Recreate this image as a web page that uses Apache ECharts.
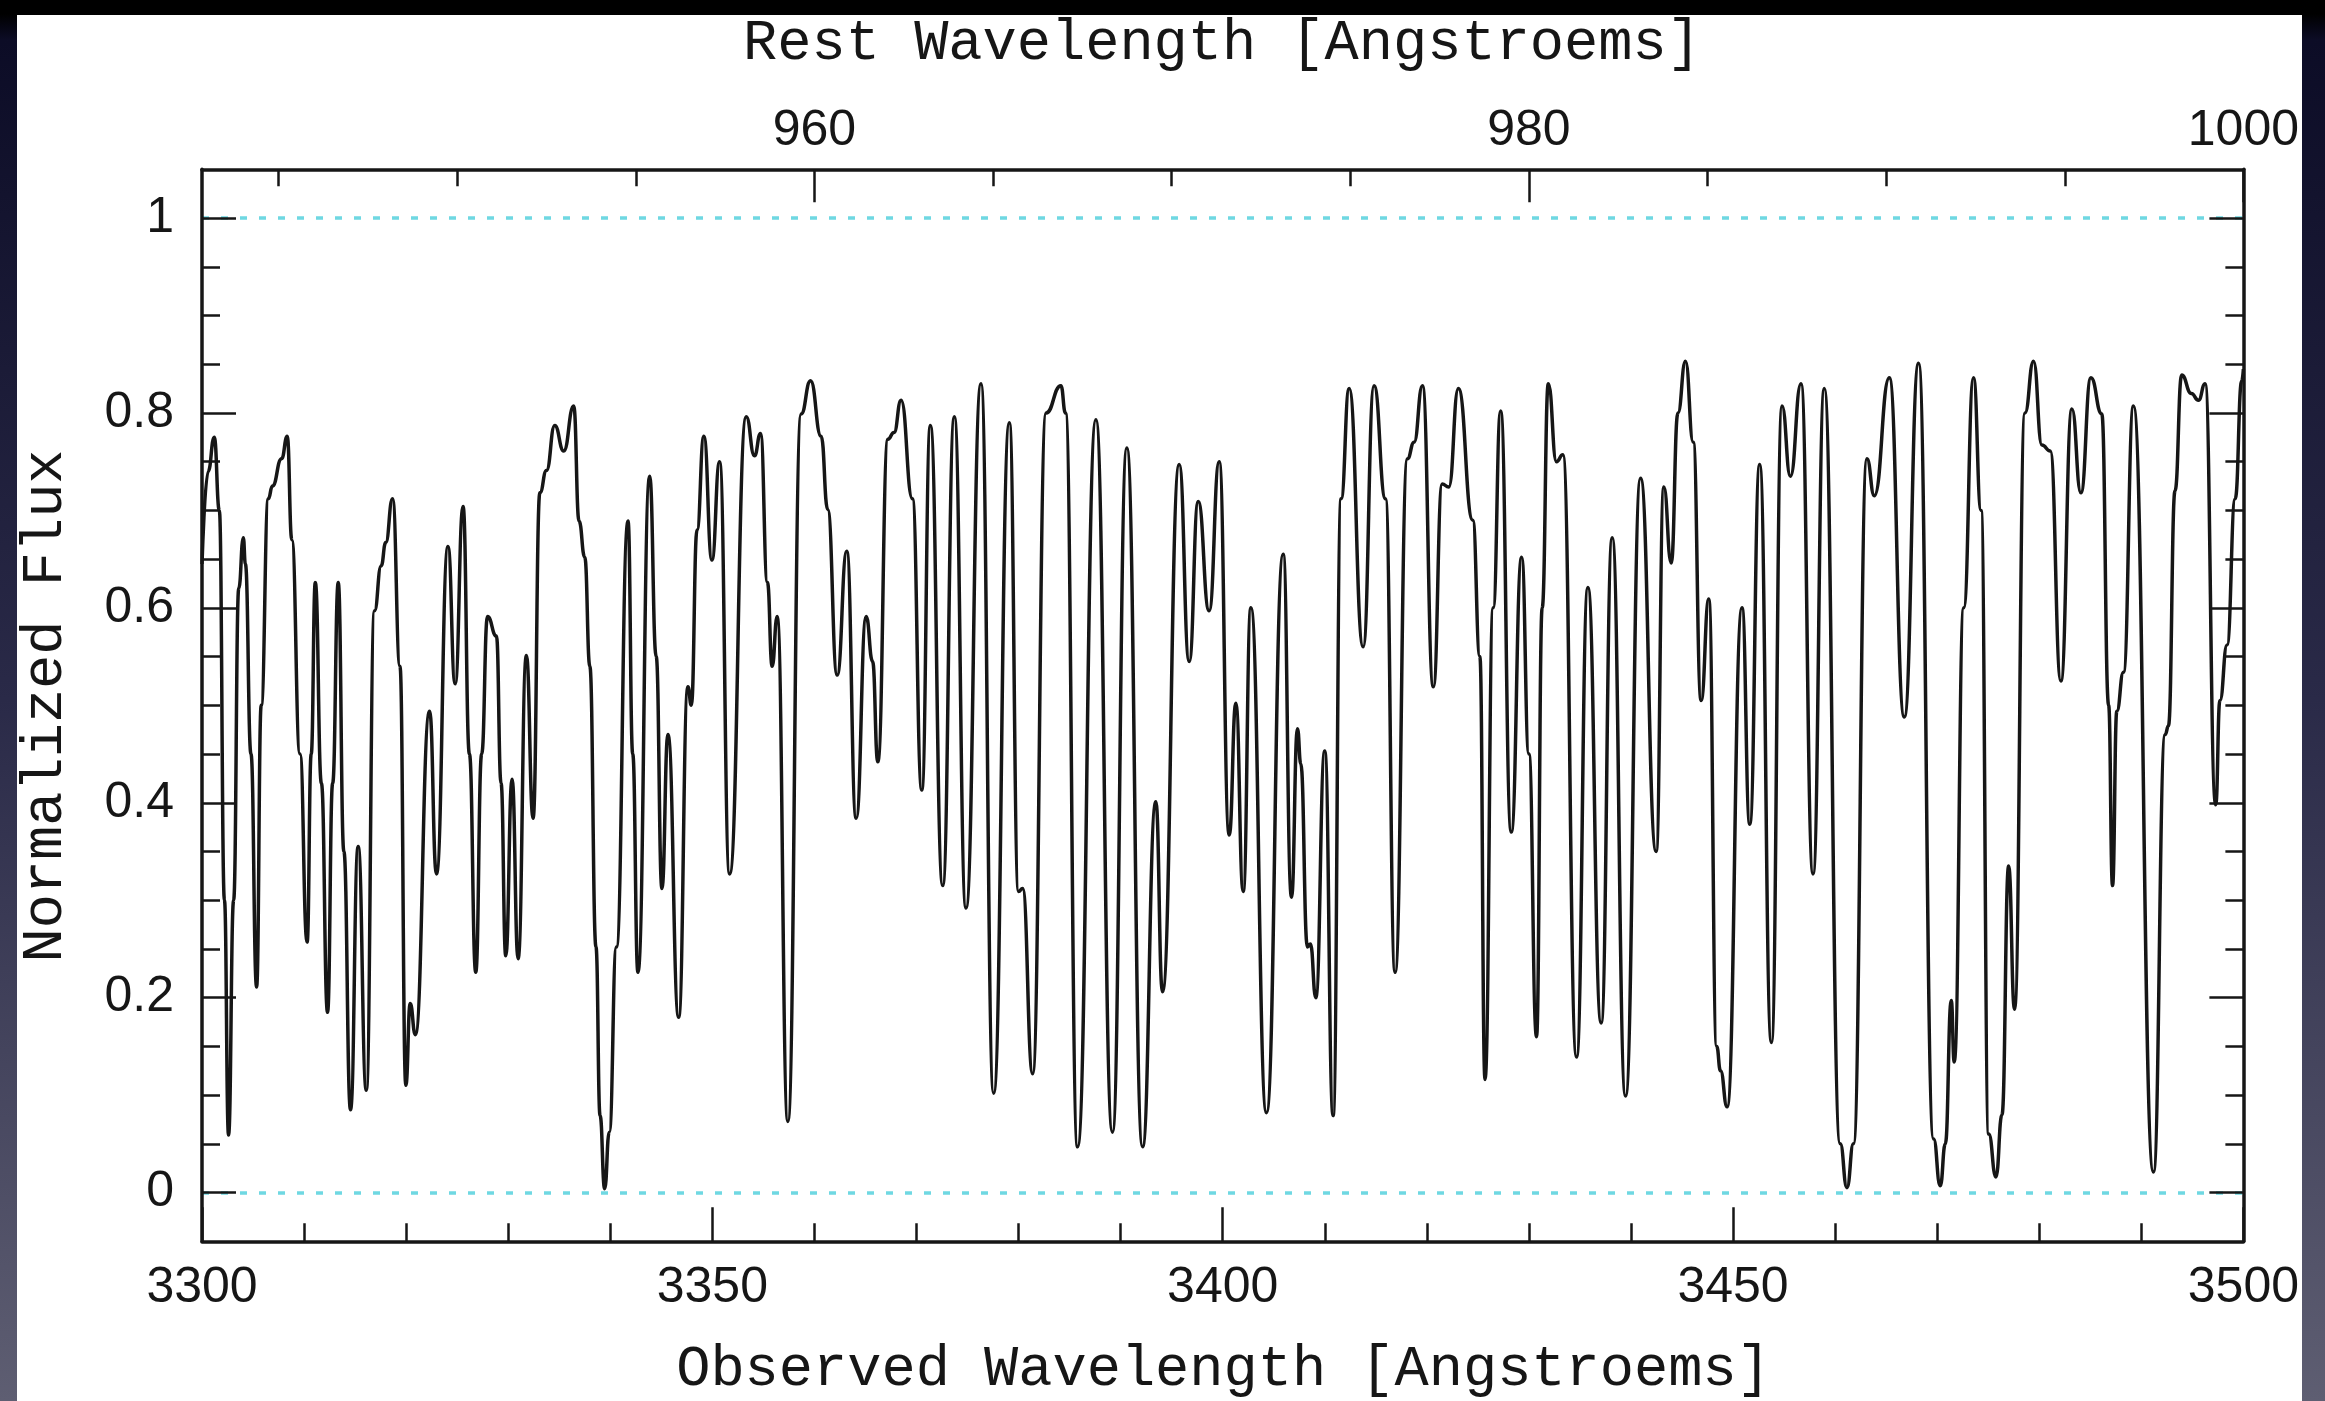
<!DOCTYPE html>
<html><head><meta charset="utf-8">
<script src="https://cdn.jsdelivr.net/npm/echarts@6.0.0/dist/echarts.min.js"></script>
<style>
html,body{margin:0;padding:0;width:2325px;height:1401px;overflow:hidden;
background:linear-gradient(to bottom,#000 0px,#000 14px,#0c0c26 40px,#2a2a48 700px,#5e5e72 1401px);}
#chart{position:absolute;left:17px;top:15px;width:2285px;height:1386px;background:#fff;}
</style></head><body><div id="chart"></div>
<script>
// ---- data ----
const wavelength = [
3300.0,3300.6,3301.2,3301.7,3302.2,3302.6,3303.1,3303.6,3304.05,3304.25,3304.8,3305.35,3305.8,3306.5,3306.9,3307.8,3308.35,3308.8,3309.6,3310.3,
3310.7,3311.1,3311.7,3312.3,3312.8,3313.35,3313.9,3314.55,3315.3,3316.1,3316.9,3317.55,3318.0,3318.67,3319.4,3319.97,3320.4,3320.9,3322.3,3322.97,
3324.1,3324.8,3325.58,3326.2,3326.82,3327.4,3327.97,3328.85,3329.3,3329.76,3330.38,3330.97,3331.78,3332.44,3333.1,3333.75,3334.56,3335.44,3336.42,3336.94,
3337.5,3338.0,3338.6,3339.0,3339.45,3339.9,3340.6,3341.74,3342.2,3342.71,3343.86,3344.5,3345.06,3345.65,3346.7,3347.61,3347.94,3348.5,3349.17,3349.96,
3350.71,3351.69,3353.32,3354.13,3354.72,3355.4,3355.86,3356.35,3357.4,3358.7,3359.62,3360.66,3361.3,3362.23,3363.17,3364.09,3365.07,3365.7,3366.21,3367.2,
3367.8,3368.49,3369.6,3370.52,3371.36,3372.57,3373.71,3374.85,3376.32,3377.56,3379.1,3380.0,3380.4,3381.38,3382.7,3384.15,3384.6,3385.78,3387.58,3389.2,
3390.61,3392.15,3393.45,3394.1,3395.74,3396.72,3397.6,3398.67,3399.66,3400.64,3401.29,3402.01,3402.76,3404.29,3405.93,3406.74,3407.33,3407.65,3408.3,3408.6,
3409.12,3410.0,3410.82,3411.6,3412.39,3413.76,3414.83,3415.95,3416.89,3418.1,3418.75,3419.57,3420.64,3421.5,3422.15,3423.09,3424.5,3425.2,3425.7,3426.5,
3427.23,3428.27,3429.29,3430.0,3430.75,3431.3,3431.9,3432.7,3433.33,3434.67,3435.78,3437.08,3438.16,3439.47,3440.94,3442.47,3443.22,3443.94,3444.6,3445.34,
3446.1,3446.87,3447.63,3448.4,3448.77,3449.42,3450.88,3451.64,3452.61,3453.76,3454.8,3455.62,3456.66,3457.84,3458.94,3460.5,3461.16,3461.8,3463.12,3463.84,
3465.31,3466.78,3468.18,3469.65,3470.3,3470.8,3471.38,3471.67,3472.6,3473.56,3474.3,3475.05,3475.76,3476.35,3477.0,3477.58,3478.6,3479.44,3480.26,3481.08,
3482.12,3483.2,3484.08,3485.06,3486.13,3486.8,3487.18,3487.6,3488.25,3489.23,3491.19,3492.34,3492.66,3493.3,3493.96,3494.9,3495.6,3496.25,3497.29,3497.7,
3498.4,3499.2,3499.84,3500.0
];
const flux = [
0.645,0.74,0.775,0.70,0.30,0.059,0.30,0.62,0.672,0.645,0.45,0.211,0.50,0.712,0.725,0.753,0.776,0.67,0.45,0.257,
0.45,0.626,0.42,0.185,0.42,0.626,0.35,0.085,0.355,0.105,0.597,0.643,0.667,0.712,0.54,0.11,0.194,0.162,0.494,0.327,
0.663,0.522,0.704,0.45,0.226,0.45,0.591,0.571,0.42,0.243,0.424,0.24,0.551,0.384,0.718,0.741,0.787,0.761,0.807,0.689,
0.652,0.54,0.252,0.079,0.004,0.062,0.252,0.689,0.45,0.226,0.735,0.55,0.312,0.47,0.18,0.519,0.50,0.68,0.776,0.649,
0.75,0.327,0.796,0.756,0.779,0.626,0.54,0.591,0.073,0.799,0.833,0.776,0.701,0.531,0.658,0.384,0.591,0.545,0.442,0.773,
0.78,0.813,0.712,0.413,0.787,0.315,0.796,0.292,0.83,0.102,0.79,0.309,0.312,0.122,0.80,0.828,0.80,0.047,0.793,0.062,
0.764,0.047,0.401,0.206,0.747,0.545,0.709,0.597,0.75,0.367,0.502,0.309,0.60,0.082,0.655,0.303,0.476,0.44,0.252,0.255,
0.20,0.453,0.079,0.712,0.825,0.56,0.828,0.712,0.226,0.753,0.77,0.828,0.519,0.727,0.724,0.825,0.69,0.55,0.116,0.60,
0.802,0.37,0.652,0.45,0.16,0.60,0.83,0.75,0.757,0.139,0.621,0.174,0.672,0.099,0.733,0.35,0.724,0.646,0.80,0.853,
0.77,0.505,0.609,0.15,0.125,0.088,0.60,0.378,0.747,0.154,0.807,0.735,0.83,0.327,0.825,0.05,0.005,0.05,0.753,0.715,
0.836,0.488,0.851,0.055,0.007,0.05,0.197,0.134,0.60,0.836,0.70,0.06,0.016,0.08,0.335,0.188,0.80,0.853,0.767,0.761,
0.525,0.804,0.718,0.836,0.799,0.50,0.315,0.494,0.534,0.807,0.021,0.47,0.479,0.72,0.839,0.82,0.813,0.83,0.398,0.505,
0.562,0.712,0.833,0.845
];
const obsMajorTicks = [3300, 3350, 3400, 3450, 3500];
const obsMinorTicks = [3310,3320,3330,3340,3360,3370,3380,3390,3410,3420,3430,3440,3460,3470,3480,3490];
const restMajorTicks = [960, 980, 1000];
const restMinorTicks = [945, 950, 955, 965, 970, 975, 985, 990, 995];
const restFactor = 3.5; // observed = rest * (1+z)
const fluxMajorTicks = [0, 0.2, 0.4, 0.6, 0.8, 1];
const fluxMinorTicks = [0.05,0.1,0.15,0.25,0.3,0.35,0.45,0.5,0.55,0.65,0.7,0.75,0.85,0.9,0.95];
const refLevels = [0, 1];
const xRange = [3300, 3500];
const yRange = [-0.05, 1.05];

// ---- chart ----
const INK = '#161616';
const tickFont = {fontFamily: '"Liberation Sans", Arial, sans-serif', fontSize: 50, color: INK};
const titleFont = '"Liberation Mono", monospace';

function axis(kind, position, values, len, opts) {
  opts = opts || {};
  const isX = kind === 'x';
  return {
    type: 'value', gridIndex: 0, position: position,
    min: isX ? xRange[0] : yRange[0], max: isX ? xRange[1] : yRange[1],
    z: 6, splitLine: {show: false},
    axisLine: {show: !!opts.line, onZero: false, lineStyle: {color: INK, width: 3.5}},
    axisTick: {show: true, inside: true, length: len, customValues: values, lineStyle: {color: INK, width: 2.5}},
    axisLabel: opts.labels ? Object.assign({show: true, customValues: values, margin: opts.margin,
      showMinLabel: true, showMaxLabel: true, formatter: opts.formatter}, tickFont) : {show: false}
  };
}

const chart = echarts.init(document.getElementById('chart'), null, {renderer: 'canvas'});
chart.setOption({
  animation: false,
  backgroundColor: '#ffffff',
  grid: {left: 185, top: 154.3, width: 2043, height: 1072, containLabel: false},
  xAxis: [
    axis('x', 'bottom', obsMajorTicks, 34, {line: true, labels: true, margin: 22, formatter: v => String(Math.round(v))}),
    axis('x', 'bottom', obsMinorTicks, 18),
    axis('x', 'top', restMajorTicks.map(r => r * restFactor), 33, {line: true, labels: true, margin: 13,
      formatter: v => String(Math.round(v / restFactor))}),
    axis('x', 'top', restMinorTicks.map(r => r * restFactor), 17)
  ],
  yAxis: [
    axis('y', 'left', fluxMajorTicks, 34, {line: true, labels: true, margin: 28, formatter: v => String(+v.toFixed(1))}),
    axis('y', 'left', fluxMinorTicks, 18),
    axis('y', 'right', fluxMajorTicks, 34, {line: true}),
    axis('y', 'right', fluxMinorTicks, 18)
  ],
  series: [{
    type: 'line', xAxisIndex: 0, yAxisIndex: 0,
    data: wavelength.map((w, i) => [w, flux[i]]),
    symbol: 'none', showSymbol: false,
    smooth: 0.5, smoothMonotone: 'x',
    lineStyle: {color: INK, width: 3.5},
    z: 3,
    markLine: {
      silent: true, symbol: 'none', label: {show: false}, animation: false,
      lineStyle: {color: '#6fd8e2', width: 3.5, type: [7, 12]},
      emphasis: {disabled: true},
      data: refLevels.map(v => ({yAxis: v}))
    }
  }],
  graphic: [
    {type: 'text', x: 1205, y: 28.5, style: {text: 'Rest Wavelength [Angstroems]', fontFamily: titleFont, fontSize: 57,
      fill: INK, align: 'center', verticalAlign: 'middle', textAlign: 'center', textVerticalAlign: 'middle'}},
    {type: 'text', x: 1206.5, y: 1355, style: {text: 'Observed Wavelength [Angstroems]', fontFamily: titleFont, fontSize: 57,
      fill: INK, align: 'center', verticalAlign: 'middle', textAlign: 'center', textVerticalAlign: 'middle'}},
    {type: 'text', x: 29, y: 691, rotation: Math.PI / 2, style: {text: 'Normalized Flux', fontFamily: titleFont, fontSize: 57,
      fill: INK, align: 'center', verticalAlign: 'middle', textAlign: 'center', textVerticalAlign: 'middle'}}
  ]
});
</script></body></html>
